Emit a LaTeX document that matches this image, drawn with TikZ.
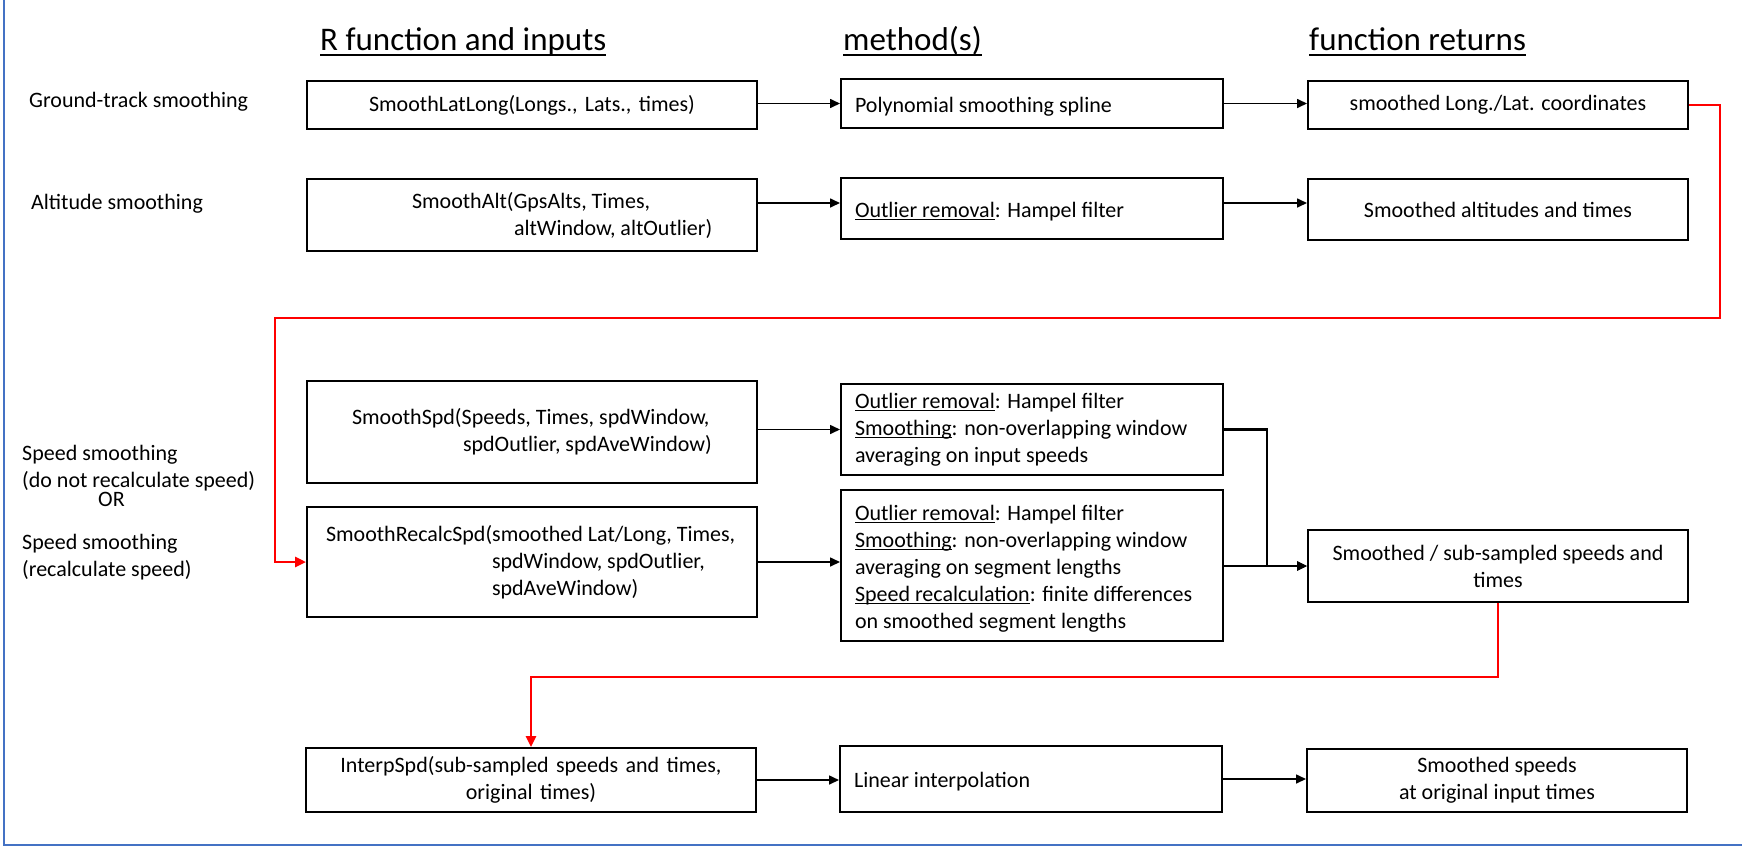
\documentclass[tikz,border=0pt]{standalone}
\usepackage{fontspec}
\setmainfont{Carlito}
\usetikzlibrary{arrows.meta,calc}
\definecolor{frameblue}{RGB}{68,114,196}
\newcommand\fsz{\fontsize{22}{27}\selectfont}
\newcommand\hfsz{\fontsize{33}{40}\selectfont}
\newcommand\myul[1]{\leavevmode\setbox0\hbox{#1}\rlap{\rule[-3pt]{\wd0}{1.1pt}}#1}
\newcommand\hdul[1]{\leavevmode\setbox0\hbox{#1}\rlap{\rule[-6pt]{\wd0}{1.8pt}}#1}
\newcommand\topstrut{\rule{0pt}{21.5pt}}
\begin{document}
\begin{tikzpicture}[x=1pt,y=-1pt,
  box/.style={draw, line width=2pt, inner sep=0pt, font=\fsz},
  abox/.style={box, text width=450pt, align=flush left, minimum height=#1},
  bbox/.style={box, text width=354pt, inner xsep=14pt, inner ysep=0pt, align=flush left, minimum height=#1},
  cbox/.style={box, minimum width=380pt, align=center, minimum height=#1},
  lbl/.style={inner sep=0pt, font=\fsz, align=left},
  hdr/.style={inner sep=0pt, font=\hfsz, anchor=base west},
  arr/.style={line width=1.6pt, -{Triangle[length=10pt,width=9pt]}},
  arrthick/.style={line width=2.6pt, -{Triangle[length=10pt,width=9pt]}},
  redarr/.style={red, line width=2.6pt, -{Triangle[length=11pt,width=10pt]}}]
\useasboundingbox (0,0) rectangle (1742,849);
\draw[frameblue, line width=2pt] (4,-5) -- (4,845) -- (1750,845);

% headers
\node[hdr] (h1) at (320,50) {\hdul{R function and inputs}};
\node[hdr] (h2) at (843,50) {\hdul{method(s)}};
\node[hdr] (h3) at (1309,50) {\hdul{function returns}};

% left labels
\node[lbl, anchor=west] (l1) at (29,102) {Ground-track smoothing};
\node[lbl, anchor=west] (l2) at (31,204) {Altitude smoothing};
\node[lbl, anchor=west] (l3) at (22,468) {Speed smoothing\\(do not recalculate speed)};
\node[lbl] (l4) at (111.5,499) {OR};
\node[lbl, anchor=west] (l5) at (22,557) {Speed smoothing\\(recalculate speed)};

% column A
\node[abox=48pt, align=center] (A1) at (532,105) {SmoothLatLong(Longs., Lats., times)};
\node[abox=72pt] (A2) at (532,215) {\hspace*{105pt}SmoothAlt(GpsAlts, Times,\\\hspace*{207pt}altWindow, altOutlier)};
\node[abox=102pt] (A3) at (532,432) {\hspace*{45pt}SmoothSpd(Speeds, Times, spdWindow,\\\hspace*{156pt}spdOutlier, spdAveWindow)};
\node[abox=110pt] (A4) at (532,562) {\hspace*{19pt}SmoothRecalcSpd(smoothed Lat/Long, Times,\\\hspace*{185pt}spdWindow, spdOutlier,\\\hspace*{185pt}spdAveWindow)};
\node[abox=64pt, align=center] (A5) at (531,780) {InterpSpd(sub-sampled speeds and times,\\original times)};

% column B
\node[bbox=49pt] (B1) at (1032,103.5) {\topstrut Polynomial smoothing spline};
\node[bbox=61pt] (B2) at (1032,208.5) {\topstrut\myul{Outlier removal}: Hampel filter};
\node[bbox=91pt] (B3) at (1032,429.5) {\myul{Outlier removal}: Hampel filter\\\myul{Smoothing}: non-overlapping window\\averaging on input speeds};
\node[bbox=151pt] (B4) at (1032,565.5) {\topstrut\myul{Outlier removal}: Hampel filter\\\myul{Smoothing}: non-overlapping window\\averaging on segment lengths\\\myul{Speed recalculation}: finite differences\\on smoothed segment lengths};
\node[bbox=66pt] (B5) at (1031,779) {\topstrut Linear interpolation};

% column C
\node[cbox=48pt] (C1) at (1498,105) {smoothed Long./Lat. coordinates};
\node[cbox=61pt] (C2) at (1498,209.5) {Smoothed altitudes and times};
\node[cbox=72pt] (C3) at (1498,566) {Smoothed / sub-sampled speeds and\\times};
\node[cbox=63pt] (C4) at (1497,780.5) {Smoothed speeds\\at original input times};

% black connectors
\draw[arr] (A1.east |- B1.west) -- (B1.west);
\draw[arr] (B1.east) -- (C1.west |- B1.east);
\coordinate (r2) at ([yshift=12pt]A2.east);
\draw[arr] (r2) -- (r2 -| B2.west);
\draw[arr] (B2.east |- r2) -- (r2 -| C2.west);
\draw[arr] (A3.east |- B3.west) -- (B3.west);
\draw[arr] (A4.east) -- (A4.east -| B4.west);
\draw[arrthick] (B3.east) -- ++(43,0) |- (C3.west);
\draw[arr] (B4.east |- C3.west) -- (C3.west);
\draw[arr] (A5.east) -- (A5.east -| B5.west);
\draw[arr] (B5.east) -- (B5.east -| C4.west);

% red connectors
\coordinate (rtr) at (1720,318);
\coordinate (rtl) at (275,318);
\draw[redarr] (C1.east) -| (rtr) -- (rtl) |- (A4.west);
\draw[redarr] (C3.south) -- ++(0,74) -| (A5.north);
\end{tikzpicture}
\end{document}
